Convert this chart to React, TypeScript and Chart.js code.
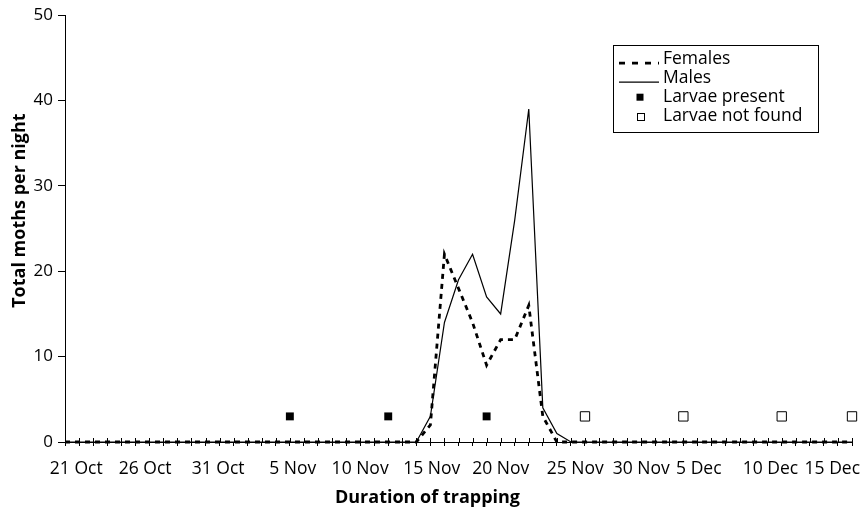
import React, { useEffect, useRef } from "react";
import { Chart, registerables } from "chart.js";

Chart.register(...registerables);

// Nightly counts, one value per day from 21 Oct (day 0) to 16 Dec (day 56)
const females = [
  0, 0, 0, 0, 0, 0, 0, 0, 0, 0,
  0, 0, 0, 0, 0, 0, 0, 0, 0, 0,
  0, 0, 0, 0, 0, 0, 2, 22, 18, 14,
  9, 12, 12, 16, 3, 0, 0, 0, 0, 0,
  0, 0, 0, 0, 0, 0, 0, 0, 0, 0,
  0, 0, 0, 0, 0, 0, 0,
];
const males = [
  0, 0, 0, 0, 0, 0, 0, 0, 0, 0,
  0, 0, 0, 0, 0, 0, 0, 0, 0, 0,
  0, 0, 0, 0, 0, 0, 3, 14, 19, 22,
  17, 15, 26, 39, 4, 1, 0, 0, 0, 0,
  0, 0, 0, 0, 0, 0, 0, 0, 0, 0,
  0, 0, 0, 0, 0, 0, 0,
];
const larvaePresentDays = [16, 23, 30];
const larvaePresentLevel = [3, 3, 3];
const larvaeNotFoundDays = [37, 44, 51, 56];
const larvaeNotFoundLevel = [3, 3, 3, 3];

const dateLabels = [
  "21 Oct", "26 Oct", "31 Oct", "5 Nov", "10 Nov", "15 Nov",
  "20 Nov", "25 Nov", "30 Nov", "5 Dec", "10 Dec", "15 Dec",
];
const dateLabelDays = [0.8, 5.7, 10.9, 16.2, 21.0, 26.1, 31.0, 36.3, 41.0, 45.1, 50.2, 54.6];
const yTickValues = [0, 10, 20, 30, 40, 50];
const xTitle = "Duration of trapping";
const yTitle = "Total moths per night";

const FONT = "'Open Sans', Lato, sans-serif";

const crossTicks = {
  id: "crossTicks",
  afterDraw(chart: any) {
    const s = chart.scales.x;
    const y0 = chart.chartArea.bottom;
    const ctx = chart.ctx;
    ctx.save();
    ctx.strokeStyle = "#000";
    ctx.lineWidth = 1;
    s.ticks.forEach((t: any) => {
      const px = Math.round(s.getPixelForValue(t.value)) + 0.5;
      ctx.beginPath();
      ctx.moveTo(px, y0 - 4);
      ctx.lineTo(px, y0);
      ctx.stroke();
    });
    ctx.restore();
  },
};

const axisTitles = {
  id: "axisTitles",
  afterDraw(chart: any, _args: any, o: any) {
    const { ctx, chartArea } = chart;
    ctx.save();
    ctx.font = o.font;
    ctx.fillStyle = "#000";
    ctx.textAlign = "center";
    ctx.textBaseline = "middle";
    ctx.fillText(o.xText, (chartArea.left + chartArea.right) / 2 + o.xShift, chart.height - o.xFromBottom);
    ctx.translate(o.yFromLeft, (chartArea.top + chartArea.bottom) / 2 + o.yShift);
    ctx.rotate(-Math.PI / 2);
    ctx.fillText(o.yText, 0, 0);
    ctx.restore();
  },
};

const boxLegend = {
  id: "boxLegend",
  afterDraw(chart: any, _args: any, o: any) {
    const { ctx, chartArea } = chart;
    const right = chartArea.right - o.right;
    const top = chartArea.top + o.top;
    const left = right - o.width;
    ctx.save();
    ctx.strokeStyle = "#000";
    ctx.lineWidth = 1;
    ctx.strokeRect(Math.round(left) + 0.5, Math.round(top) + 0.5, o.width, o.height);
    ctx.font = o.font;
    ctx.fillStyle = "#000";
    ctx.textBaseline = "middle";
    ctx.textAlign = "left";
    chart.data.datasets.forEach((ds: any, i: number) => {
      const cy = top + o.firstRow + i * o.rowGap;
      if (ds.showLine === false) {
        const half = o.square / 2;
        const cx = left + o.markerX;
        if (ds.backgroundColor === "#000") {
          ctx.fillStyle = "#000";
          ctx.fillRect(cx - half, cy - half, o.square, o.square);
        } else {
          ctx.strokeStyle = "#000";
          ctx.lineWidth = 1;
          ctx.strokeRect(Math.round(cx - half) + 0.5, Math.round(cy - half) + 0.5, o.square, o.square);
        }
        ctx.fillStyle = "#000";
      } else {
        ctx.beginPath();
        ctx.strokeStyle = "#000";
        ctx.lineWidth = ds.borderWidth;
        ctx.setLineDash(ds.borderDash ? o.legendDash : []);
        ctx.moveTo(left + o.lineStart, cy + o.lineDrop);
        ctx.lineTo(left + o.lineEnd, cy + o.lineDrop);
        ctx.stroke();
        ctx.setLineDash([]);
      }
      ctx.fillText(ds.label, left + o.textX, cy);
    });
    ctx.restore();
  },
};

export default function App() {
  const canvasRef = useRef<HTMLCanvasElement | null>(null);

  useEffect(() => {
    if (!canvasRef.current) return;
    Chart.defaults.color = "#000";
    Chart.defaults.font.family = FONT;
    const days = females.map((_, i) => i);
    const chart = new Chart(canvasRef.current, {
      type: "line",
      data: {
        datasets: [
          {
            label: "Females",
            data: females.map((v, i) => ({ x: days[i], y: v })),
            borderColor: "#000",
            borderWidth: 2.8,
            borderDash: [5, 5],
            pointRadius: 0,
            tension: 0,
            clip: false,
          } as any,
          {
            label: "Males",
            data: males.map((v, i) => ({ x: days[i], y: v })),
            borderColor: "#000",
            borderWidth: 1.2,
            pointRadius: 0,
            tension: 0,
            clip: false,
          },
          {
            label: "Larvae present",
            data: larvaePresentDays.map((d, i) => ({ x: d, y: larvaePresentLevel[i] })),
            showLine: false,
            pointStyle: "rect",
            pointRadius: 5.6,
            backgroundColor: "#000",
            borderColor: "#000",
            borderWidth: 0,
            clip: false,
          },
          {
            label: "Larvae not found",
            data: larvaeNotFoundDays.map((d, i) => ({ x: d, y: larvaeNotFoundLevel[i] })),
            showLine: false,
            pointStyle: "rect",
            pointRadius: 6.6,
            backgroundColor: "#fff",
            borderColor: "#000",
            borderWidth: 1,
            clip: false,
          },
        ],
      },
      options: {
        responsive: false,
        animation: false,
        devicePixelRatio: 1,
        layout: { padding: { left: 0, right: 14, top: 14, bottom: 8 } },
        plugins: {
          legend: { display: false },
          tooltip: { enabled: false },
          boxLegend: {
            right: 34,
            top: 30,
            width: 205,
            height: 87,
            firstRow: 14,
            rowGap: 19,
            lineStart: 6,
            lineEnd: 46,
            lineDrop: 4,
            legendDash: [6, 7],
            markerX: 27,
            square: 7,
            textX: 50,
            font: `17.5px ${FONT}`,
          },
          axisTitles: {
            xText: xTitle,
            yText: yTitle,
            font: `bold 18px ${FONT}`,
            xShift: -31,
            xFromBottom: 17,
            yFromLeft: 20,
            yShift: -18,
          },
        } as any,
        scales: {
          x: {
            type: "linear",
            position: "bottom",
            min: 0,
            max: 56,
            weight: 0,
            afterBuildTicks: (s: any) => {
              s.ticks = days.map((d) => ({ value: d }));
            },
            ticks: { display: false },
            grid: {
              display: true,
              drawOnChartArea: false,
              drawTicks: true,
              tickLength: 4,
              color: "#000",
              lineWidth: 1,
            },
            border: { display: true, color: "#000", width: 1 },
            afterFit: (s: any) => {
              s.height = 4;
              s.paddingLeft = 0;
              s.paddingRight = 0;
            },
          },
          xDates: {
            type: "linear",
            position: "bottom",
            min: 0,
            max: 56,
            weight: 1,
            afterBuildTicks: (s: any) => {
              s.ticks = dateLabelDays.map((d) => ({ value: d }));
            },
            ticks: {
              autoSkip: false,
              maxRotation: 0,
              minRotation: 0,
              padding: 13,
              font: { size: 17.5, family: FONT },
              color: "#000",
              callback: (_v: any, i: number) => dateLabels[i],
            },
            grid: { display: false, drawTicks: false, tickLength: 0 },
            border: { display: false },
            title: { display: false },
            afterFit: (s: any) => {
              s.height = 61;
              s.paddingLeft = 0;
              s.paddingRight = 0;
            },
          },
          y: {
            type: "linear",
            min: 0,
            max: 50,
            afterBuildTicks: (s: any) => {
              s.ticks = yTickValues.map((v) => ({ value: v }));
            },
            ticks: { padding: 5, font: { size: 17, family: FONT }, color: "#000" },
            grid: {
              drawOnChartArea: false,
              drawTicks: true,
              tickLength: 7,
              color: "#000",
            },
            border: { display: true, color: "#000", width: 1 },
            title: { display: false },
            afterFit: (s: any) => {
              s.width = 65;
            },
          },
        } as any,
      },
      plugins: [crossTicks, boxLegend, axisTitles],
    });
    return () => chart.destroy();
  }, []);

  return (
    <div style={{ position: "absolute", left: 0, top: 0, width: 866, height: 515 }}>
      <canvas ref={canvasRef} width={866} height={515} />
    </div>
  );
}
